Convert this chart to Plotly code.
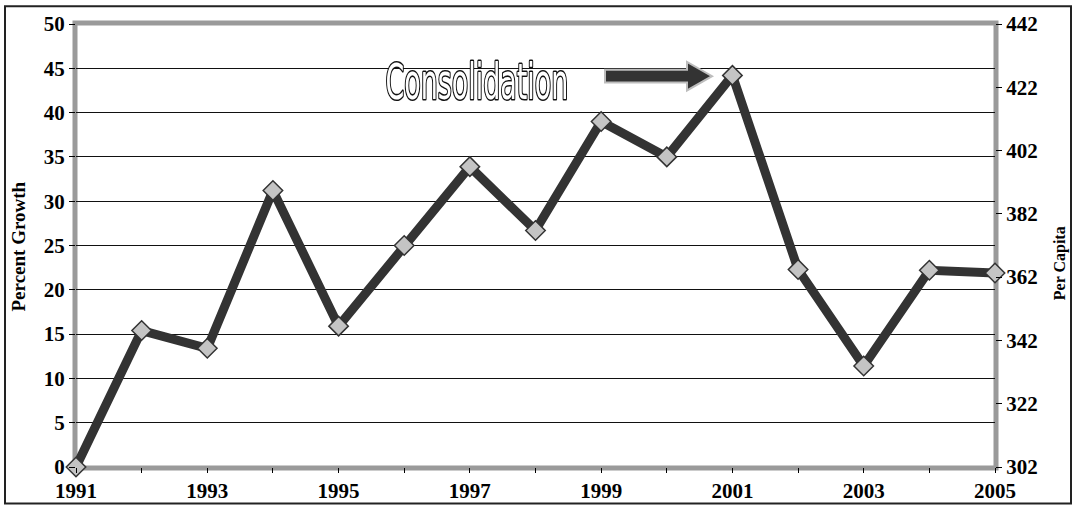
import plotly.graph_objects as go

# Annual growth series
years = [1991, 1992, 1993, 1994, 1995, 1996, 1997, 1998, 1999, 2000,
         2001, 2002, 2003, 2004, 2005]
percent_growth = [0.0, 15.4, 13.4, 31.2, 15.9, 25.0, 33.9, 26.7, 39.0, 35.0,
                  44.2, 22.3, 11.4, 22.2, 21.9]

left_ticks = [0, 5, 10, 15, 20, 25, 30, 35, 40, 45, 50]
right_ticks = [302, 322, 342, 362, 382, 402, 422, 442]
year_labels = [str(y) if (y - 1991) % 2 == 0 else "" for y in years]

# plot-area geometry in pixels (used to place decorations)
W, H = 1076, 515
ML, MR, MT, MB = 76, 81, 23, 42
PW, PH = W - ML - MR, H - MT - MB


def px(x):
    return (x - ML) / PW


def py(y):
    return (H - MB - y) / PH


FONT = "Liberation Serif, Times New Roman, serif"
TICKFONT = dict(family=FONT, size=21, weight="bold", color="black")

fig = go.Figure()

fig.add_trace(go.Scatter(
    x=years, y=percent_growth, mode="lines+markers",
    line=dict(color="#333333", width=9),
    marker=dict(symbol="diamond", size=15, color="#c4c4c4",
                line=dict(color="#333333", width=1.5)),
    cliponaxis=False, showlegend=False, hoverinfo="x+y",
))

# invisible trace carrying the secondary axis
fig.add_trace(go.Scatter(
    x=[years[0], years[-1]], y=[right_ticks[0], right_ticks[-1]],
    yaxis="y2", mode="markers", marker=dict(opacity=0),
    showlegend=False, hoverinfo="skip",
))

# block arrow pointing at the peak
ax0, ax1, axh = 605, 712, 687
ay, bh, hh = 76, 6.5, 14.5
arrow = (f"M {px(ax0)},{py(ay - bh)} L {px(axh)},{py(ay - bh)} "
         f"L {px(axh)},{py(ay - hh)} L {px(ax1)},{py(ay)} "
         f"L {px(axh)},{py(ay + hh)} L {px(axh)},{py(ay + bh)} "
         f"L {px(ax0)},{py(ay + bh)} Z")

shapes = [
    # outer frame
    dict(type="rect", xref="paper", yref="paper",
         x0=px(5), x1=px(1071), y0=py(510), y1=py(5),
         line=dict(color="#222222", width=2), layer="below"),
    # plot-area frame
    dict(type="rect", xref="paper", yref="paper",
         x0=px(ML - 1), x1=px(W - MR + 1), y0=py(H - MB + 1), y1=py(MT - 1),
         line=dict(color="#9a9a9a", width=5), layer="below"),
    dict(type="path", xref="paper", yref="paper", path=arrow,
         fillcolor="#333333", line=dict(color="#bdbdbd", width=2)),
]

annotations = [
    dict(text="Consolidation", xref="paper", yref="paper",
         x=px(477), y=py(82), xanchor="center", yanchor="middle",
         showarrow=False,
         font=dict(family="DejaVu Sans Condensed, Liberation Sans Narrow, sans-serif",
                   size=34, color="white")),
    dict(text="Percent Growth", xref="paper", yref="paper",
         x=px(18), y=py(249), textangle=-90, showarrow=False,
         xanchor="center", yanchor="middle",
         font=dict(family=FONT, size=19, weight="bold", color="black")),
    dict(text="Per Capita", xref="paper", yref="paper",
         x=px(1060), y=py(266), textangle=-90, showarrow=False,
         xanchor="center", yanchor="middle",
         font=dict(family=FONT, size=16, weight="bold", color="black")),
]

fig.update_layout(
    width=W, height=H,
    margin=dict(l=ML, r=MR, t=MT, b=MB),
    paper_bgcolor="white", plot_bgcolor="white",
    font=dict(family=FONT, size=19, color="black"),
    xaxis=dict(
        range=[years[0], years[-1]],
        tickmode="array", tickvals=years, ticktext=year_labels,
        ticks="outside", ticklen=5, tickcolor="black",
        showgrid=False, zeroline=False, showline=False,
        tickfont=TICKFONT,
    ),
    yaxis=dict(
        range=[0, 50], tickmode="array", tickvals=left_ticks,
        ticks="outside", ticklen=6, tickcolor="black",
        showgrid=True, gridcolor="#111111", gridwidth=1,
        zeroline=False, showline=False, tickfont=TICKFONT,
    ),
    yaxis2=dict(
        range=[right_ticks[0], right_ticks[-1]], overlaying="y", side="right",
        tickmode="array", tickvals=right_ticks,
        ticks="outside", ticklen=6, tickcolor="black",
        showgrid=False, zeroline=False, showline=False, tickfont=TICKFONT,
    ),
    shapes=shapes,
    annotations=annotations,
)

# outlined, tall and narrow lettering for the callout
post = """
var gd = document.getElementById('{plot_id}');
var NS = 'http://www.w3.org/2000/svg';
function ensureFilter() {
  var svg = gd.querySelector('svg.main-svg');
  if (!svg || svg.querySelector('#callout-gray')) return;
  var defs = svg.querySelector('defs') || svg.insertBefore(document.createElementNS(NS, 'defs'), svg.firstChild);
  var f = document.createElementNS(NS, 'filter');
  f.setAttribute('id', 'callout-gray');
  f.setAttribute('x', '-10%'); f.setAttribute('y', '-20%');
  f.setAttribute('width', '120%'); f.setAttribute('height', '140%');
  var m = document.createElementNS(NS, 'feColorMatrix');
  m.setAttribute('type', 'saturate');
  m.setAttribute('values', '0');
  f.appendChild(m);
  defs.appendChild(f);
}
function styleCallout() {
  ensureFilter();
  var nodes = gd.querySelectorAll('.annotation-text');
  nodes.forEach(function (t) {
    if (t.textContent !== 'Consolidation') return;
    t.style.stroke = '#111';
    t.style.strokeWidth = '2.2px';
    t.style.paintOrder = 'stroke';
    t.style.strokeLinejoin = 'round';
    t.setAttribute('filter', 'url(#callout-gray)');
    t.removeAttribute('transform');
    var b = t.getBBox();
    var cx = b.x + b.width / 2, cy = b.y + b.height / 2;
    t.setAttribute('transform',
      'translate(' + cx + ',' + cy + ') scale(0.88,1.45) translate(' + (-cx) + ',' + (-cy) + ')');
  });
}
styleCallout();
gd.on('plotly_afterplot', styleCallout);
"""

fig.write_html("out.html", post_script=post)
